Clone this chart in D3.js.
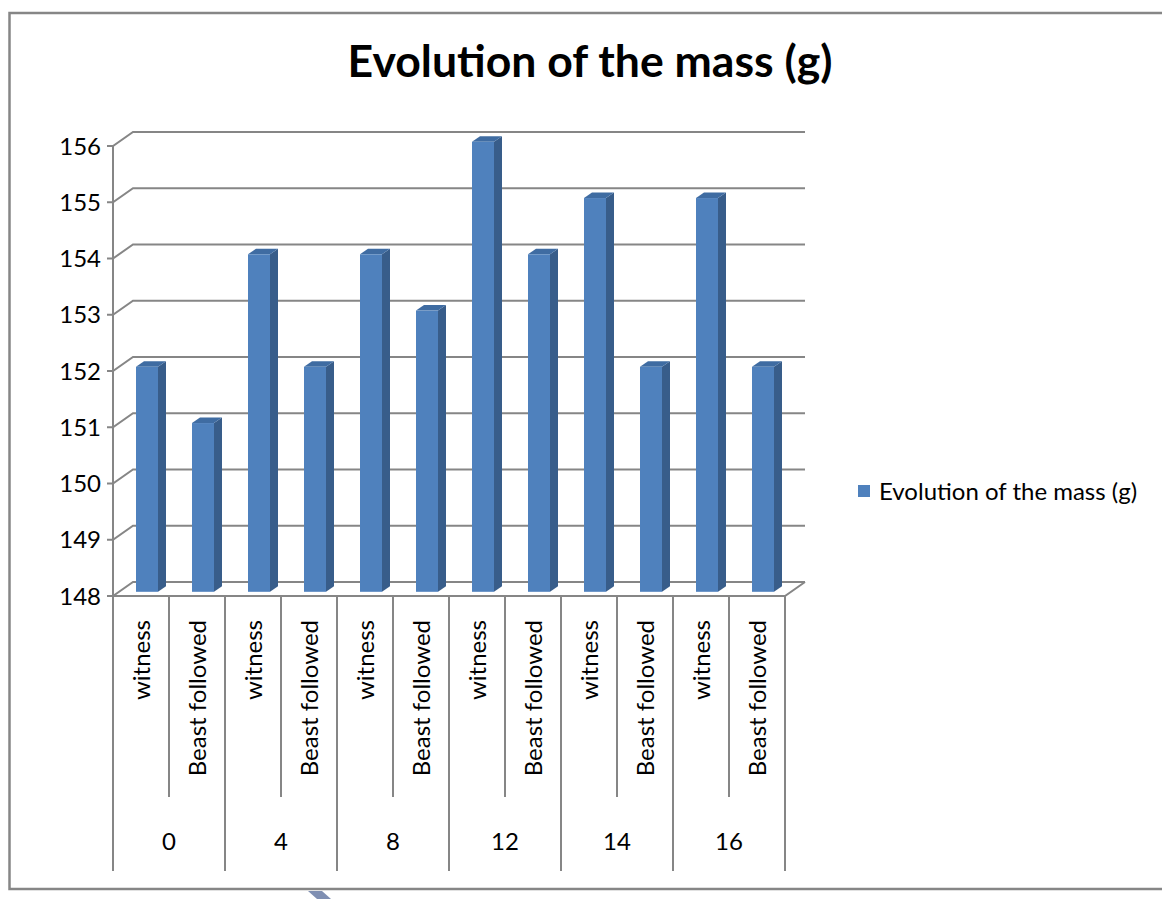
<!DOCTYPE html>
<html>
<head>
<meta charset="utf-8">
<script src="https://cdn.jsdelivr.net/npm/d3@7"></script>
<style>
  html, body { margin: 0; padding: 0; background: #ffffff; }
  svg { display: block; font-family: Lato, "Open Sans", sans-serif; }
</style>
</head>
<body>
<svg id="chart"></svg>
<script>
// data
var groups = ["0", "4", "8", "12", "14", "16"];
var subLabels = ["witness", "Beast followed"];
var witnessMass = [152, 154, 154, 156, 155, 155];
var beastMass = [151, 152, 153, 154, 152, 152];
var titleText = "Evolution of the mass (g)";
var legendText = "Evolution of the mass (g)";
var yTicks = [148, 149, 150, 151, 152, 153, 154, 155, 156];

// layout
var width = 1162, height = 899;
var axisLeft = 113, axisRight = 785;
var floorY = 596, topY = 146;
var depthX = 20, depthY = -14;
var fontSize = 24;
var gridColor = "#868686";
var frontColor = "#4f81bd", sideColor = "#385d8a", topColor = "#3f6ca2";

var svg = d3.select("#chart").attr("width", width).attr("height", height);

// flatten categories
var rows = [];
groups.forEach(function (g, i) {
  rows.push({group: g, label: subLabels[0], value: witnessMass[i], key: g + "-0"});
  rows.push({group: g, label: subLabels[1], value: beastMass[i], key: g + "-1"});
});

var x = d3.scaleBand().domain(rows.map(function (d) { return d.key; }))
  .range([axisLeft, axisRight]).paddingInner(0).paddingOuter(0);
var y = d3.scaleLinear().domain([148, 156]).range([floorY, topY]);

// outer border
svg.append("path")
  .attr("d", "M1170,13 H9.5 V889 H1170")
  .attr("fill", "none").attr("stroke", gridColor).attr("stroke-width", 2.5);

// title
var title = svg.append("text")
  .attr("x", 590).attr("y", 77)
  .attr("text-anchor", "middle")
  .attr("font-weight", "bold")
  .attr("font-size", 40)
  .attr("fill", "#000")
  .text(titleText);
var tw = title.node().getComputedTextLength();
title.attr("font-size", 40 * 485 / tw);

// gridlines with the 3D wall offset
var grid = svg.append("g");
yTicks.forEach(function (t) {
  var fy = y(t);
  grid.append("path")
    .attr("d", "M" + (axisLeft - 6) + "," + fy + " H" + axisLeft +
      " L" + (axisLeft + depthX) + "," + (fy + depthY) +
      " H" + (axisRight + depthX))
    .attr("fill", "none").attr("stroke", gridColor).attr("stroke-width", 2);
});

// front value axis
grid.append("line")
  .attr("x1", axisLeft).attr("x2", axisLeft)
  .attr("y1", y(156)).attr("y2", floorY)
  .attr("stroke", gridColor).attr("stroke-width", 2);

// floor
grid.append("path")
  .attr("d", "M" + axisLeft + "," + floorY + " H" + axisRight +
    " L" + (axisRight + depthX) + "," + (floorY + depthY))
  .attr("fill", "none").attr("stroke", gridColor).attr("stroke-width", 2);

// y tick labels
svg.append("g").selectAll("text")
  .data(yTicks).enter().append("text")
  .attr("x", 101).attr("y", function (d) { return y(d); })
  .attr("dy", "0.36em")
  .attr("text-anchor", "end")
  .attr("font-size", fontSize)
  .attr("fill", "#000")
  .text(function (d) { return d; });

// bars: front face sits 30% into the depth, back face at 70%
var bw = 22;
var f0 = 0.3, f1 = 0.7;
var bars = svg.append("g").selectAll("g")
  .data(rows).enter().append("g");

bars.each(function (d) {
  var gsel = d3.select(this);
  var cx = x(d.key) + x.bandwidth() / 2;
  var xl = cx - bw / 2 + depthX * f0, xr = xl + bw;
  var yb = floorY + depthY * f0, yt = y(d.value) + depthY * f0;
  var ddx = depthX * (f1 - f0), ddy = depthY * (f1 - f0);
  // side
  gsel.append("path")
    .attr("d", "M" + xr + "," + yt + " L" + (xr + ddx) + "," + (yt + ddy) +
      " L" + (xr + ddx) + "," + (yb + ddy) + " L" + xr + "," + yb + "Z")
    .attr("fill", sideColor);
  // top
  gsel.append("path")
    .attr("d", "M" + xl + "," + yt + " L" + (xl + ddx) + "," + (yt + ddy) +
      " L" + (xr + ddx) + "," + (yt + ddy) + " L" + xr + "," + yt + "Z")
    .attr("fill", topColor);
  // front
  gsel.append("rect")
    .attr("x", xl).attr("y", yt)
    .attr("width", bw).attr("height", yb - yt)
    .attr("fill", frontColor);
});

// category axis: inner separators and group separators
var cat = svg.append("g");
rows.forEach(function (d, i) {
  var xs = x(d.key);
  var isGroup = i % 2 === 0;
  cat.append("line")
    .attr("x1", xs).attr("x2", xs)
    .attr("y1", floorY).attr("y2", isGroup ? 871 : 797)
    .attr("stroke", gridColor).attr("stroke-width", 2);
});
cat.append("line")
  .attr("x1", axisRight).attr("x2", axisRight)
  .attr("y1", floorY).attr("y2", 871)
  .attr("stroke", gridColor).attr("stroke-width", 2);

// rotated sub labels
cat.selectAll("text.sub")
  .data(rows).enter().append("text")
  .attr("class", "sub")
  .attr("transform", function (d) {
    return "translate(" + (x(d.key) + x.bandwidth() / 2) + ",620) rotate(-90)";
  })
  .attr("dy", "0.36em")
  .attr("text-anchor", "end")
  .attr("font-size", fontSize)
  .attr("fill", "#000")
  .text(function (d) { return d.label; });

// group labels
cat.selectAll("text.grp")
  .data(groups).enter().append("text")
  .attr("class", "grp")
  .attr("x", function (g) { return x(g + "-0") + x.bandwidth(); })
  .attr("y", 841)
  .attr("dy", "0.36em")
  .attr("text-anchor", "middle")
  .attr("font-size", fontSize)
  .attr("fill", "#000")
  .text(function (g) { return g; });

// legend
var legend = svg.append("g").attr("transform", "translate(858,491)");
legend.append("rect")
  .attr("x", 0).attr("y", -6).attr("width", 12).attr("height", 12)
  .attr("fill", frontColor);
legend.append("text")
  .attr("x", 21).attr("y", 0).attr("dy", "0.36em")
  .attr("font-size", fontSize)
  .attr("fill", "#000")
  .text(legendText);

// stray shape at the bottom edge
svg.append("path")
  .attr("d", "M308,891 L322,891 L331,899 L317,899 Z")
  .attr("fill", "#7f8fb2");
</script>
</body>
</html>
